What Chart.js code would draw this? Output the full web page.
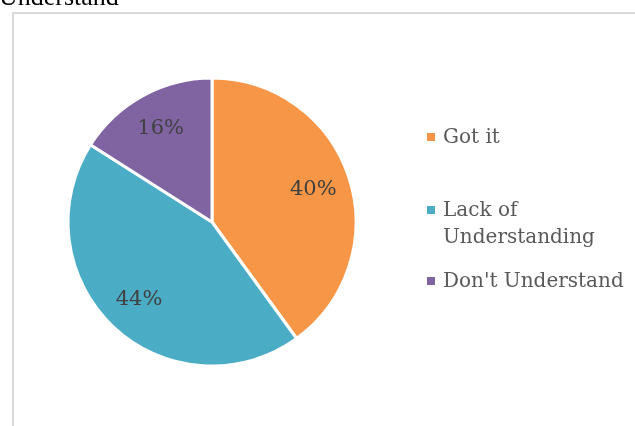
<!DOCTYPE html>
<html>
<head>
<meta charset="utf-8">
<script src="https://cdn.jsdelivr.net/npm/chart.js@4"></script>
<style>
  html, body { margin: 0; padding: 0; background: #fff; }
  #wrap { position: relative; width: 635px; height: 426px; overflow: hidden; }
  canvas { display: block; }
</style>
</head>
<body>
<div id="wrap"><canvas id="pieChart" width="635" height="426"></canvas></div>
<script>
// ===== DATA =====
const categories = ['Got it', 'Lack of Understanding', "Don't Understand"];
const legendLines = [['Got it'], ['Lack of', 'Understanding'], ["Don't Understand"]];
const shares = [40, 44, 16];
const sliceColors = ['#F79646', '#4BACC6', '#8064A2'];
const captionText = 'Understand';

// ===== FRAME + CAPTION (cut-off heading above the chart) =====
const framePlugin = {
  id: 'frame',
  beforeDraw(chart) {
    const ctx = chart.ctx;
    ctx.save();
    ctx.fillStyle = '#fff';
    ctx.fillRect(0, 0, chart.width, chart.height);
    ctx.strokeStyle = '#d9d9d9';
    ctx.lineWidth = 2;
    ctx.strokeRect(13, 13, chart.width + 20, chart.height + 20);
    ctx.fillStyle = '#000';
    ctx.font = '26px "Liberation Serif"';
    ctx.textBaseline = 'alphabetic';
    ctx.fillText(captionText, -1, 5);
    ctx.restore();
  }
};

// ===== PERCENT LABELS INSIDE SLICES =====
const sliceLabels = {
  id: 'sliceLabels',
  afterDatasetsDraw(chart) {
    const ctx = chart.ctx;
    const data = chart.data.datasets[0].data;
    const total = data.reduce((a, b) => a + b, 0);
    ctx.save();
    ctx.font = '21px "DejaVu Serif"';
    ctx.fillStyle = '#404040';
    ctx.textAlign = 'center';
    ctx.textBaseline = 'middle';
    chart.getDatasetMeta(0).data.forEach((arc, i) => {
      const p = arc.getProps(['x', 'y', 'startAngle', 'endAngle', 'outerRadius'], true);
      const mid = (p.startAngle + p.endAngle) / 2;
      const r = p.outerRadius * 0.74;
      const txt = Math.round(data[i] / total * 100) + '%';
      ctx.fillText(txt, p.x + Math.cos(mid) * r, p.y + Math.sin(mid) * r);
    });
    ctx.restore();
  }
};

// ===== LEGEND ON THE RIGHT =====
const sideLegend = {
  id: 'sideLegend',
  afterDraw(chart) {
    const ctx = chart.ctx;
    const rows = [143, 216, 287]; // first baseline of each item
    const lineH = 27;
    ctx.save();
    ctx.font = '20px "DejaVu Serif"';
    ctx.textBaseline = 'alphabetic';
    legendLines.forEach((lines, i) => {
      ctx.fillStyle = sliceColors[i];
      ctx.fillRect(427, rows[i] - 10, 8, 8);
      ctx.fillStyle = '#595959';
      lines.forEach((ln, j) => ctx.fillText(ln, 443, rows[i] + j * lineH));
    });
    ctx.restore();
  }
};

const ctx = document.getElementById('pieChart').getContext('2d');
new Chart(ctx, {
  type: 'pie',
  data: {
    labels: categories,
    datasets: [{
      data: shares,
      backgroundColor: sliceColors,
      borderColor: '#fff',
      borderWidth: 3
    }]
  },
  options: {
    responsive: false,
    animation: false,
    radius: 144,
    layout: { padding: { left: 0, right: 211, top: 18, bottom: 0 } },
    plugins: {
      legend: { display: false },
      tooltip: { enabled: false }
    }
  },
  plugins: [framePlugin, sliceLabels, sideLegend]
});
</script>
</body>
</html>
